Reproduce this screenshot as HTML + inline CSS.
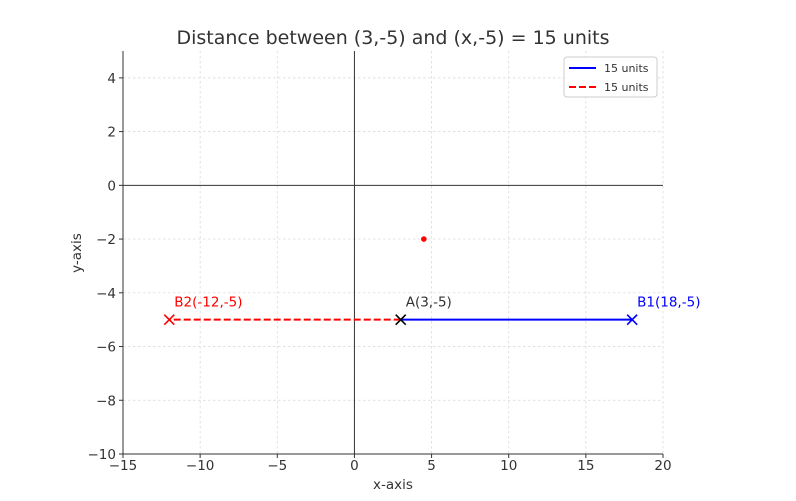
<!DOCTYPE html>
<html><head><meta charset="utf-8"><style>
body{margin:0;background:#fff;}
svg text{font-family:"DejaVu Sans","Liberation Sans",sans-serif;}
</style></head><body>
<svg id="c" width="796" height="496" xmlns="http://www.w3.org/2000/svg"></svg>
<script>
const xTicks=[-15,-10,-5,0,5,10,15,20];
const yTicks=[4,2,0,-2,-4,-6,-8,-10];
const pointA=[3,-5];
const pointB1=[18,-5];
const pointB2=[-12,-5];
const extraDot=[4.5,-2];
const X0=123,X1=663,Y0=51,Y1=454;
const xs=v=>X0+(v+15)/35*(X1-X0);
const ys=v=>Y1-(v+10)/15*(Y1-Y0);
const svg=document.getElementById('c');
const NS='http://www.w3.org/2000/svg';
function mk(t,a,p){const e=document.createElementNS(NS,t);for(const k in a)e.setAttribute(k,a[k]);(p||svg).appendChild(e);return e;}
xTicks.forEach(v=>{const g=mk('line',{x1:xs(v),x2:xs(v),y1:Y0,y2:Y1,stroke:'#d6d6d6','stroke-dasharray':'2.5,2.5','stroke-width':0.7});

const t=mk('text',{x:xs(v),y:Y1+16,'text-anchor':'middle','font-size':13.5,fill:'#333'});t.textContent=String(v).replace('-','\u2212');

mk('line',{x1:xs(v),x2:xs(v),y1:Y1,y2:Y1+4,stroke:'#333'});});
yTicks.forEach(v=>{const g=mk('line',{x1:X0,x2:X1,y1:ys(v),y2:ys(v),stroke:'#d6d6d6','stroke-dasharray':'2.5,2.5','stroke-width':0.7});

const t=mk('text',{x:X0-7,y:ys(v)+5,'text-anchor':'end','font-size':13.5,fill:'#333'});t.textContent=String(v).replace('-','\u2212');

mk('line',{x1:X0-4,x2:X0,y1:ys(v),y2:ys(v),stroke:'#333'});});
mk('line',{x1:X0,x2:X0,y1:Y0,y2:Y1,stroke:'#333'});
mk('line',{x1:X0,x2:X1,y1:Y1,y2:Y1,stroke:'#333'});
mk('line',{x1:xs(0),x2:xs(0),y1:Y0,y2:Y1,stroke:'#333','stroke-width':1});
mk('line',{x1:X0,x2:X1,y1:ys(0),y2:ys(0),stroke:'#333','stroke-width':1});
const l1=mk('line',{x1:xs(pointA[0]),y1:ys(pointA[1]),x2:xs(pointB1[0]),y2:ys(pointB1[1]),stroke:'#0000ff','stroke-width':2});

const l2=mk('line',{x1:xs(pointA[0]),y1:ys(pointA[1]),x2:xs(pointB2[0]),y2:ys(pointB2[1]),stroke:'#ff0000','stroke-width':2,'stroke-dasharray':'7,3'});

function xm(p,c,name){const x=xs(p[0]),y=ys(p[1]);const g=mk('g',{stroke:c,'stroke-width':1.6});

mk('line',{x1:x-5,y1:y-5,x2:x+5,y2:y+5},g);mk('line',{x1:x-5,y1:y+5,x2:x+5,y2:y-5},g);}
xm(pointB1,'#0000ff','marker-b1');xm(pointB2,'#ff0000','marker-b2');xm(pointA,'#000','marker-a');
const d=mk('circle',{cx:xs(extraDot[0]),cy:ys(extraDot[1]),r:2.8,fill:'#ff0000'});

function lab(p,s,c,name){const t=mk('text',{x:xs(p[0])+5,y:ys(p[1])-13,'font-size':13.5,fill:c});t.textContent=s;
}
lab(pointA,'A(3,-5)','#333','label-a');lab(pointB1,'B1(18,-5)','#0000ff','label-b1');lab(pointB2,'B2(-12,-5)','#ff0000','label-b2');
</script>
<svg style="position:absolute;left:0;top:0" width="796" height="496" xmlns="http://www.w3.org/2000/svg">
<text x="393" y="44" text-anchor="middle" font-size="19" fill="#333">Distance between (3,-5) and (x,-5) = 15 units</text>
<text x="393" y="489" text-anchor="middle" font-size="13.5" fill="#333">x-axis</text>
<text x="81" y="253" text-anchor="middle" font-size="13.5" fill="#333" transform="rotate(-90 81 253)">y-axis</text>
<g>
<rect x="564" y="57" width="93" height="40" rx="3" fill="#fff" stroke="#ccc"/>
<line x1="569" y1="68" x2="596" y2="68" stroke="#0000ff" stroke-width="2"/>
<text x="604" y="72" font-size="11" fill="#333">15 units</text>
<line x1="569" y1="87" x2="596" y2="87" stroke="#ff0000" stroke-width="2" stroke-dasharray="7,3"/>
<text x="604" y="91" font-size="11" fill="#333">15 units</text>
</g>
</svg>
</body></html>
